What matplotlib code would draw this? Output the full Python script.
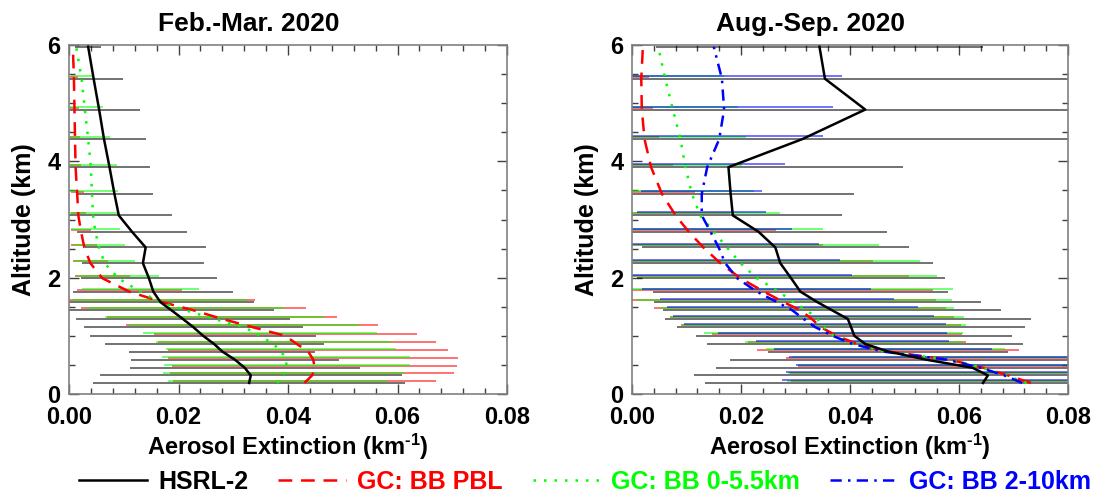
import numpy as np
import matplotlib
matplotlib.use("Agg")
import matplotlib.pyplot as plt
from matplotlib.lines import Line2D
from matplotlib.ticker import MultipleLocator, FormatStrFormatter

plt.rcParams['font.family'] = ['Liberation Sans', 'DejaVu Sans']
plt.rcParams['font.weight'] = 'bold'
plt.rcParams['mathtext.fontset'] = 'custom'
plt.rcParams['mathtext.rm'] = 'Liberation Sans:bold'
plt.rcParams['mathtext.bf'] = 'Liberation Sans:bold'
plt.rcParams['mathtext.default'] = 'bf'

# ---------------- data ----------------
altitude = [0.19, 0.32, 0.45, 0.59, 0.73, 0.86, 1.00, 1.15, 1.29, 1.44, 1.58, 1.76,
            1.99, 2.25, 2.52, 2.79, 3.07, 3.44, 3.90, 4.38, 4.89, 5.42, 5.97]

titles = ["Feb.-Mar. 2020", "Aug.-Sep. 2020"]
series_labels = ["HSRL-2", "GC: BB PBL", "GC: BB 0-5.5km", "GC: BB 2-10km"]

# Feb.-Mar. 2020
hsrl_fm = [0.0329, 0.0332, 0.0321, 0.0303, 0.0280, 0.0265, 0.0245, 0.0227, 0.0208, 0.0187, 0.0167, 0.0154,
           0.0146, 0.0135, 0.0140, 0.0115, 0.0091, 0.0083, 0.0074, 0.0064, 0.0055, 0.0045, 0.0035]
hsrl_fm_sd = [0.0285, 0.0276, 0.0210, 0.0190, 0.0170, 0.0200, 0.0206, 0.0200, 0.0196, 0.0187, 0.0170, 0.0146,
              0.0124, 0.0112, 0.0111, 0.0101, 0.0098, 0.0071, 0.0074, 0.0077, 0.0074, 0.0054, 0.0024]
pbl_fm = [0.0430, 0.0444, 0.0449, 0.0446, 0.0437, 0.0416, 0.0395, 0.0335, 0.0280, 0.0227, 0.0170, 0.0110,
          0.0061, 0.0039, 0.0028, 0.0022, 0.0017, 0.0015, 0.0012, 0.0011, 0.0010, 0.0009, 0.0007]
pbl_fm_sd = [0.0240, 0.0259, 0.0260, 0.0265, 0.0256, 0.0254, 0.0240, 0.0230, 0.0210, 0.0205, 0.0170, 0.0096,
             0.0050, 0.0032, 0.0024, 0.0019, 0.0014, 0.0012, 0.0010, 0.0009, 0.0008, 0.0007, 0.0006]
ft_fm = [0.0380, 0.0391, 0.0398, 0.0396, 0.0388, 0.0373, 0.0349, 0.0320, 0.0265, 0.0213, 0.0166, 0.0130,
         0.0090, 0.0065, 0.0055, 0.0048, 0.0044, 0.0042, 0.0040, 0.0035, 0.0029, 0.0023, 0.0013]
ft_fm_sd = [0.0200, 0.0220, 0.0224, 0.0226, 0.0210, 0.0215, 0.0214, 0.0210, 0.0200, 0.0180, 0.0160, 0.0107,
            0.0075, 0.0055, 0.0047, 0.0045, 0.0046, 0.0048, 0.0048, 0.0040, 0.0033, 0.0019, 0.0012]

# Aug.-Sep. 2020
hsrl_as = [0.0644, 0.0653, 0.0625, 0.0540, 0.0470, 0.0428, 0.0408, 0.0402, 0.0396, 0.0367, 0.0340, 0.0309,
           0.0292, 0.0272, 0.0263, 0.0232, 0.0185, 0.0181, 0.0177, 0.0312, 0.0428, 0.0354, 0.0344]
hsrl_as_sd = [0.0510, 0.0540, 0.0470, 0.0360, 0.0220, 0.0290, 0.0290, 0.0320, 0.0336, 0.0310, 0.0300, 0.0270,
              0.0283, 0.0280, 0.0245, 0.0236, 0.0200, 0.0226, 0.0320, 0.0550, 0.0600, 0.0500, 0.0300]
pbl_as = [0.0732, 0.0690, 0.0645, 0.0583, 0.0470, 0.0413, 0.0376, 0.0346, 0.0330, 0.0309, 0.0278, 0.0242,
          0.0199, 0.0162, 0.0131, 0.0104, 0.0080, 0.0055, 0.0035, 0.0023, 0.0018, 0.0017, 0.0020]
pbl_as_sd = [0.0440, 0.0400, 0.0340, 0.0300, 0.0240, 0.0200, 0.0230, 0.0257, 0.0260, 0.0268, 0.0280, 0.0310,
             0.0310, 0.0280, 0.0220, 0.0160, 0.0100, 0.0060, 0.0040, 0.0026, 0.0020, 0.0015, 0.0015]
ft_as = [0.0724, 0.0687, 0.0644, 0.0583, 0.0465, 0.0407, 0.0370, 0.0352, 0.0340, 0.0321, 0.0297, 0.0269,
         0.0229, 0.0199, 0.0174, 0.0150, 0.0125, 0.0110, 0.0098, 0.0089, 0.0075, 0.0061, 0.0048]
ft_as_sd = [0.0440, 0.0400, 0.0340, 0.0290, 0.0220, 0.0200, 0.0237, 0.0260, 0.0270, 0.0270, 0.0290, 0.0320,
            0.0330, 0.0330, 0.0280, 0.0200, 0.0146, 0.0113, 0.0104, 0.0120, 0.0120, 0.0107, 0.0080]
ut_as = [0.0716, 0.0683, 0.0640, 0.0578, 0.0460, 0.0405, 0.0368, 0.0336, 0.0315, 0.0294, 0.0266, 0.0229,
         0.0193, 0.0171, 0.0159, 0.0144, 0.0128, 0.0128, 0.0138, 0.0160, 0.0169, 0.0165, 0.0150]
ut_as_sd = [0.0440, 0.0400, 0.0340, 0.0290, 0.0200, 0.0177, 0.0210, 0.0240, 0.0240, 0.0230, 0.0215, 0.0210,
            0.0210, 0.0210, 0.0184, 0.0150, 0.0118, 0.0111, 0.0143, 0.0190, 0.0200, 0.0220, 0.0150]

# ---------------- styles ----------------
colors = ['black', 'red', '#00ff00', 'blue']
line_styles = ['-', (0, (5.5, 3.5)), (0, (1, 3.2)), (0, (4.5, 2.5, 1, 2.5))]
bar_offsets = [0.0, 0.035, 0.042, 0.052]

panels = [
    [(hsrl_fm, hsrl_fm_sd), (pbl_fm, pbl_fm_sd), (ft_fm, ft_fm_sd), None],
    [(hsrl_as, hsrl_as_sd), (pbl_as, pbl_as_sd), (ft_as, ft_as_sd), (ut_as, ut_as_sd)],
]

fig = plt.figure(figsize=(10.98, 5.03), dpi=100)
ax_rects = [[69 / 1098, 109 / 503, 438 / 1098, 349 / 503],
            [632 / 1098, 109 / 503, 436 / 1098, 349 / 503]]

alt = np.array(altitude)
spine_col = '#808080'
FS = 17

for p, (rect, data, title) in enumerate(zip(ax_rects, panels, titles)):
    ax = fig.add_axes(rect)
    # error bars
    for k, item in enumerate(data):
        if item is None:
            continue
        m = np.array(item[0])
        s = np.array(item[1])
        ax.hlines(alt + bar_offsets[k], np.maximum(0, m - s), m + s,
                  colors=colors[k], lw=1.1, alpha=0.7, zorder=2)
    # mean profiles
    for k, item in enumerate(data):
        if item is None:
            continue
        ax.plot(item[0], alt, color=colors[k], ls=line_styles[k],
                lw=1.8, zorder=4 if k == 0 else 3)
    ax.set_xlim(0, 0.08)
    ax.set_ylim(0, 6)
    ax.xaxis.set_major_locator(MultipleLocator(0.02))
    ax.xaxis.set_minor_locator(MultipleLocator(0.004))
    ax.xaxis.set_major_formatter(FormatStrFormatter('%.2f'))
    ax.yaxis.set_major_locator(MultipleLocator(2))
    ax.yaxis.set_minor_locator(MultipleLocator(0.5))
    ax.yaxis.set_major_formatter(FormatStrFormatter('%d'))
    ax.tick_params(which='both', direction='in', top=True, right=True,
                   color='#404040', width=1.0, labelsize=FS)
    ax.tick_params(which='major', length=7, pad=9)
    ax.tick_params(which='minor', length=4)
    ax.tick_params(axis='y', which='major', pad=6)
    for sp in ax.spines.values():
        sp.set_color(spine_col)
        sp.set_linewidth(1.2)
    for lab in ax.get_xticklabels() + ax.get_yticklabels():
        lab.set_fontweight('bold')
    ylabs = ax.get_yticklabels()
    ylabs[-1].set_verticalalignment('top')
    ax.set_title(title, fontsize=19, fontweight='bold', pad=10, x=0.41)
    ax.set_xlabel(r'Aerosol Extinction (km$^{\text{-1}}$)', fontsize=FS, fontweight='bold', labelpad=2)
    ax.set_ylabel('Altitude (km)', fontsize=FS + 1, fontweight='bold', labelpad=8)

handles = [Line2D([], [], color=colors[k], ls=line_styles[k], lw=1.8) for k in range(4)]
leg = fig.legend(handles, series_labels, loc='center', bbox_to_anchor=(0.533, 0.042),
                 ncol=4, frameon=False, fontsize=18, handlelength=2.7,
                 handletextpad=0.45, columnspacing=1.2)
for t, c in zip(leg.get_texts(), colors):
    t.set_color(c)
    t.set_fontweight('bold')

fig.savefig('out.png', dpi=100)
